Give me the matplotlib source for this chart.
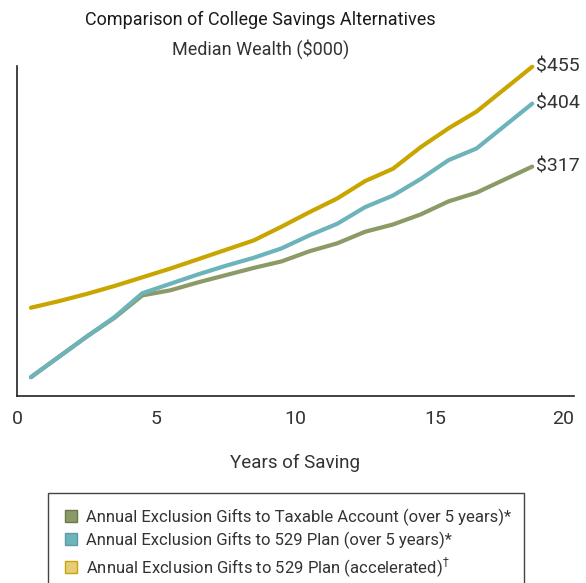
import numpy as np
import matplotlib
matplotlib.use('Agg')
import matplotlib.pyplot as plt
from matplotlib.lines import Line2D
from matplotlib.patches import Rectangle

plt.rcParams['font.family'] = ['Roboto', 'DejaVu Sans']
#----- data (median wealth, $000)
years = [0.5, 1.5, 2.5, 3.5, 4.5, 5.5, 6.5, 7.5, 8.5, 9.5,
         10.5, 11.5, 12.5, 13.5, 14.5, 15.5, 16.5, 17.5, 18.5]
taxable = [26, 54, 82, 108, 139, 146, 157, 167, 177, 186,
           200, 211, 227, 237, 251, 269, 281, 299, 317]
plan_5yr = [26, 54, 82, 109, 142, 155, 168, 180, 191, 204,
            222, 238, 261, 277, 300, 326, 342, 373, 404]
plan_acc = [122, 131, 141, 152, 164, 176, 189, 202, 215, 234,
            254, 273, 297, 314, 344, 370, 393, 424, 455]
end_labels = ['$317', '$404', '$455']
series_names = ['Annual Exclusion Gifts to Taxable Account (over 5 years)*',
                'Annual Exclusion Gifts to 529 Plan (over 5 years)*',
                r'Annual Exclusion Gifts to 529 Plan (accelerated)$^{\dagger}$']
xticks = [0, 5, 10, 15, 20]

c_green = '#8b9a66'
c_teal = '#6db3ba'
c_gold = '#c9a500'
txt = '#333333'

#----- plot
fig = plt.figure(figsize=(5.86, 5.83), dpi=100)
ax = fig.add_axes([17/586, 1 - 396/583, 557/586, 330/583])

series = [taxable, plan_5yr, plan_acc]
colors = [c_green, c_teal, c_gold]
for vals, col, lab in zip(series, colors, end_labels):
    ax.plot(years, vals, color=col, lw=3, solid_capstyle='round',
            solid_joinstyle='round', clip_on=False)
    ax.annotate(lab, xy=(years[-1], vals[-1]), xytext=(3, 0),
                textcoords='offset points', va='center', ha='left',
                fontsize=14, color=txt, annotation_clip=False)

ax.set_xlim(0, 20)
ax.set_ylim(0, 456)
ax.set_xticks(xticks)
ax.set_xticklabels([str(t) for t in xticks])
ax.tick_params(axis='x', length=0, pad=10, labelsize=14, labelcolor=txt)
ax.get_xticklabels()[-1].set_ha('right')
ax.set_yticks([])
for s in ['top', 'right']:
    ax.spines[s].set_visible(False)
for s in ['left', 'bottom']:
    ax.spines[s].set_color('#222222')
    ax.spines[s].set_linewidth(1.2)
ax.set_xlabel('Years of Saving', fontsize=13.5, color=txt, labelpad=19)

fig.text(0.444, 1 - 20/583, 'Comparison of College Savings Alternatives',
         ha='center', va='center', fontsize=13, color='#1a1a1a')
fig.text(0.444, 1 - 49/583, 'Median Wealth ($000)',
         ha='center', va='center', fontsize=13, color=txt)

#----- legend
face = [c_green, c_teal, '#e6cc7a']
edge = ['#6b7a45', '#5a9da4', c_gold]
handles = [Line2D([], [], ls='none', marker='s', markersize=8.5,
                  markerfacecolor=f, markeredgecolor=e, markeredgewidth=1)
           for f, e in zip(face, edge)]
fig.add_artist(Rectangle((48/586, -0.05), 476/586, 0.05 + 1 - 493/583,
                         transform=fig.transFigure, fill=False,
                         edgecolor='#444444', lw=1))
fig.legend(handles, series_names, loc='upper left',
           bbox_to_anchor=(58/586, 1 - 502/583), frameon=False,
           fontsize=12, labelcolor=txt, handlelength=0.8,
           handletextpad=0.5, labelspacing=0.35, borderaxespad=0)

plt.savefig('out.png', dpi=100)
